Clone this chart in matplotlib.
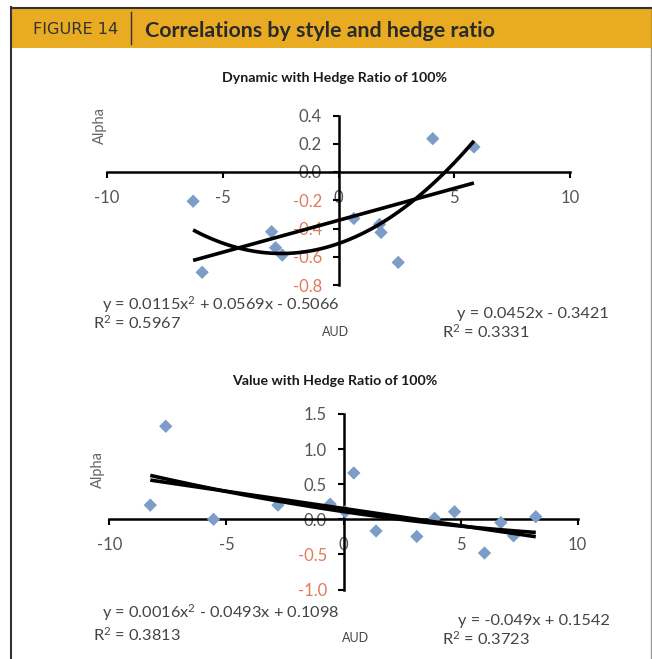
import numpy as np
import matplotlib
matplotlib.use("Agg")
import matplotlib.pyplot as plt
from matplotlib.patches import Rectangle
from matplotlib.lines import Line2D

# AUD return vs alpha, dynamic style, 100% hedge
dyn_x = [-6.28, -5.89, -2.89, -2.72, -2.43, 0.66, 1.77, 1.84, 2.58, 4.07, 5.85]
dyn_y = [-0.207, -0.71, -0.423, -0.536, -0.588, -0.329, -0.371, -0.428, -0.64, 0.236, 0.177]
dyn_quad = [0.0115, 0.0569, -0.5066]
dyn_lin = [0.0452, -0.3421]
dyn_r2 = [0.5967, 0.3331]

# AUD return vs alpha, value style, 100% hedge
val_x = [-8.25, -7.59, -5.55, -2.80, -0.57, 0.07, 0.44, 1.39, 3.13, 3.89, 4.74, 6.02, 6.72, 7.26, 8.21]
val_y = [0.202, 1.325, 0.0, 0.202, 0.216, 0.108, 0.66, -0.166, -0.245, 0.014, 0.108, -0.48, -0.047, -0.236, 0.037]
val_quad = [0.0016, -0.0493, 0.1098]
val_lin = [-0.049, 0.1542]
val_r2 = [0.3813, 0.3723]

x_ticks = [-10, -5, 0, 5, 10]
dyn_yticks = [0.4, 0.2, 0.0, -0.2, -0.4, -0.6, -0.8]
val_yticks = [1.5, 1.0, 0.5, 0.0, -0.5, -1.0]

W, H = 652, 659
GREY = "#555555"
NEG = "#E07A5A"
PT = "#7B9DC8"
FONT = "Lato"

plt.rcParams["mathtext.fontset"] = "custom"
plt.rcParams["mathtext.rm"] = FONT
plt.rcParams["mathtext.it"] = FONT

fig = plt.figure(figsize=(W / 100, H / 100), dpi=100)
fig.patch.set_facecolor("white")


def fx(px):
    return px / W


def fy(py):
    return 1 - py / H


# header bar and frame
fig.patches.append(Rectangle((fx(11), fy(48)), fx(641), 40 / H, transform=fig.transFigure,
                             facecolor="#E9AB22", edgecolor="none", zorder=0))
fig.add_artist(Line2D([fx(11), fx(652)], [fy(7.5), fy(7.5)], color="#333333", lw=1.5))
fig.add_artist(Line2D([fx(11), fx(11)], [fy(7), fy(659)], color="#333333", lw=1.5))
fig.add_artist(Line2D([fx(650.5), fx(650.5)], [fy(48), fy(659)], color="#999999", lw=1))
fig.add_artist(Line2D([fx(652), fx(652)], [fy(7), fy(48)], color="#333333", lw=1))
fig.add_artist(Line2D([fx(131), fx(131)], [fy(12), fy(44)], color="#333333", lw=1))
fig.text(fx(33), fy(30), "FIGURE 14", fontsize=11.6, family="DejaVu Sans", color="#333333",
         va="center", ha="left")
fig.text(fx(145), fy(31), "Correlations by style and hedge ratio", fontsize=15.4,
         family=FONT, weight="bold", color="#2a2a2a", va="center", ha="left")


def sgn(v):
    return "+" if v >= 0 else "-"


def make_panel(rect, ylim, yticks, xs, ys, quad, lin, r2, title, title_y, texts):
    l, r, t, b = rect
    ax = fig.add_axes([fx(l), fy(b), fx(r - l), (b - t) / H])
    ax.set_xlim(-10, 10)
    ax.set_ylim(*ylim)
    ax.patch.set_alpha(0)
    for s in ["top", "right"]:
        ax.spines[s].set_visible(False)
    ax.spines["left"].set_position(("data", 0))
    ax.spines["bottom"].set_position(("data", 0))
    for s in ["left", "bottom"]:
        ax.spines[s].set_linewidth(1.8)
        ax.spines[s].set_color("black")
    ax.set_xticks(x_ticks)
    ax.set_xticklabels([str(v) for v in x_ticks])
    ax.set_yticks(yticks)
    ax.set_yticklabels([f"{v:.1f}" for v in yticks])
    ax.tick_params(axis="both", direction="out", length=4, width=1.5, color="black",
                   labelsize=12, labelcolor=GREY)
    ax.tick_params(axis="x", pad=9)
    ax.tick_params(axis="y", pad=8)
    for lab in ax.get_xticklabels() + ax.get_yticklabels():
        lab.set_family(FONT)
    for lab, v in zip(ax.get_yticklabels(), yticks):
        if v < 0:
            lab.set_color(NEG)

    ax.scatter(xs, ys, marker="D", s=46, color=PT, edgecolor="none", zorder=3, clip_on=False)
    xx = np.linspace(min(xs), max(xs), 200)
    ax.plot(xx, np.polyval(quad, xx), color="black", lw=2.6, zorder=4, clip_on=False,
            solid_capstyle="butt")
    ax.plot(xx, np.polyval(lin, xx), color="black", lw=2.6, zorder=4, clip_on=False,
            solid_capstyle="butt")

    fig.text(fx(335), fy(title_y), title, fontsize=10.2, family=FONT, weight="bold",
             color="#1a1a1a", ha="center", va="center")

    (qx, qy), (rqx, rqy), (aud_x, aud_y), (lx, ly), (rlx, rly), (alx, aly) = texts
    q = quad
    qtxt = (f"y = {q[0]:.4f}x$^{{2}}$ {sgn(q[1])} {abs(q[1]):.4f}x "
            f"{sgn(q[2])} {abs(q[2]):.4f}")
    ltxt = f"y = {lin[0]:g}x {sgn(lin[1])} {abs(lin[1]):.4f}"
    kw = dict(fontsize=11.8, family=FONT, color="#444444", va="baseline", ha="left")
    fig.text(fx(qx), fy(qy), qtxt, **kw)
    fig.text(fx(rqx), fy(rqy), f"R$^{{2}}$ = {r2[0]:.4f}", **kw)
    fig.text(fx(lx), fy(ly), ltxt, **kw)
    fig.text(fx(rlx), fy(rly), f"R$^{{2}}$ = {r2[1]:.4f}", **kw)
    fig.text(fx(aud_x), fy(aud_y), "AUD", fontsize=9, family=FONT, color="#444444",
             ha="center", va="center")
    fig.text(fx(alx), fy(aly), "Alpha", fontsize=10.5, family=FONT, color="#666666",
             ha="center", va="center", rotation=90)
    return ax


# text anchors are baselines, in pixels from the top-left corner
make_panel((107, 570, 115.5, 285), (-0.8, 0.4), dyn_yticks, dyn_x, dyn_y, dyn_quad,
           dyn_lin, dyn_r2, "Dynamic with Hedge Ratio of 100%", 78,
           [(102, 310), (93, 329), (336, 332), (457, 318), (442, 338), (100, 126)])
make_panel((109.3, 577.7, 414, 589.5), (-1.0, 1.5), val_yticks, val_x, val_y, val_quad,
           val_lin, val_r2, "Value with Hedge Ratio of 100%", 381,
           [(102, 618), (93, 641), (356, 638), (458, 625), (442, 645), (98, 469)])

fig.savefig("out.png", dpi=100, facecolor="white")
